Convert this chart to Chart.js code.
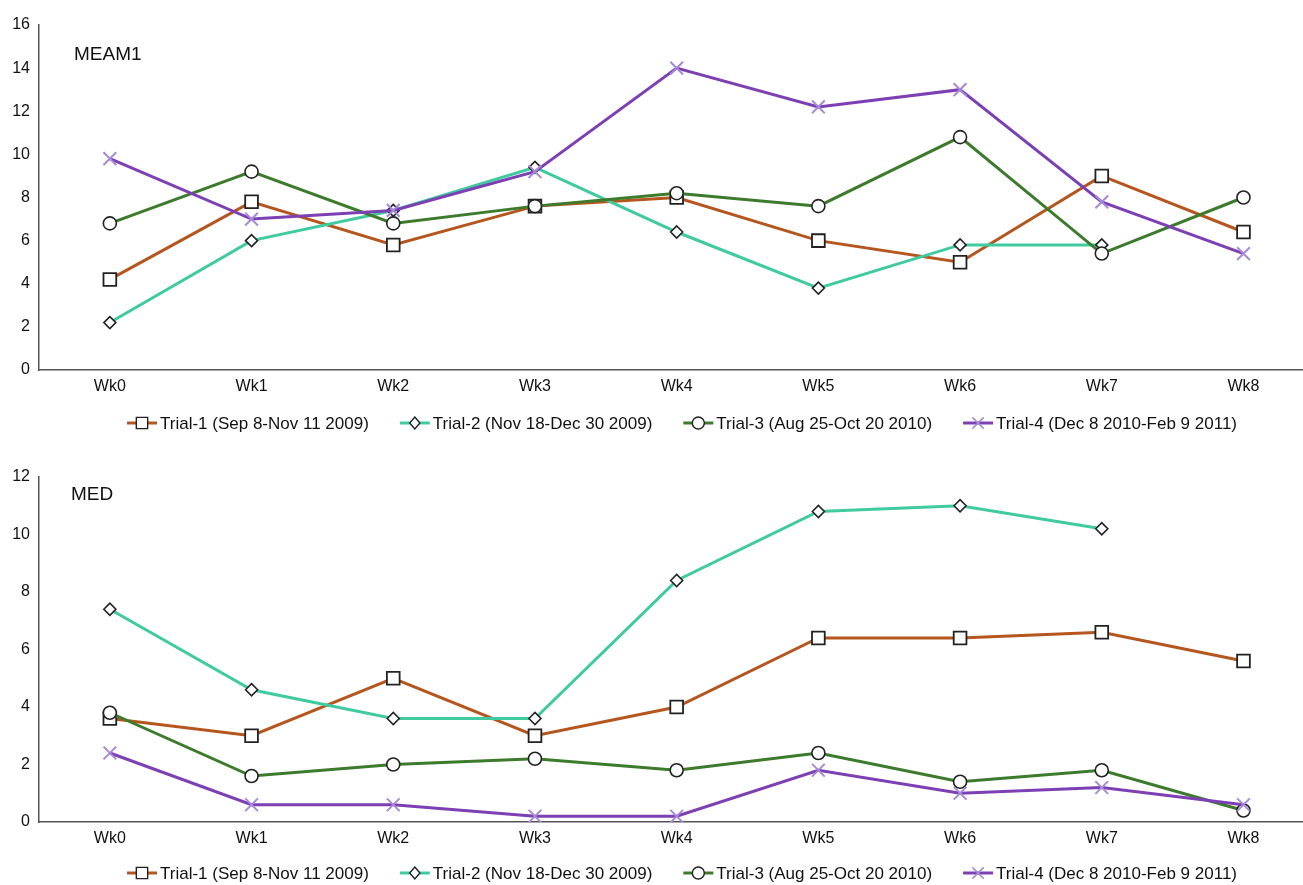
<!DOCTYPE html>
<html>
<head>
<meta charset="utf-8">
<title>MEAM1 / MED weekly counts</title>
<style>
  html, body { margin: 0; padding: 0; background: #fff; overflow: hidden; width: 1303px; height: 885px; }
  .panel { position: absolute; left: 0; width: 1303px; }
  #panelTop { top: 0; height: 445px; }
  #panelBottom { top: 445px; height: 440px; }
</style>
<script src="https://cdn.jsdelivr.net/npm/chart.js@4.4.1/dist/chart.umd.min.js"></script>
</head>
<body>
<div class="panel" id="panelTop"><canvas id="chartMeam1" width="1303" height="445"></canvas></div>
<div class="panel" id="panelBottom"><canvas id="chartMed" width="1303" height="440"></canvas></div>
<script>
// ---- data ----
const weeks = ['Wk0', 'Wk1', 'Wk2', 'Wk3', 'Wk4', 'Wk5', 'Wk6', 'Wk7', 'Wk8'];
const trialNames = [
  'Trial-1 (Sep 8-Nov 11 2009)',
  'Trial-2 (Nov 18-Dec 30 2009)',
  'Trial-3 (Aug 25-Oct 20 2010)',
  'Trial-4 (Dec 8 2010-Feb 9 2011)'
];
const meam1Ticks = [0, 2, 4, 6, 8, 10, 12, 14, 16];
const medTicks = [0, 2, 4, 6, 8, 10, 12];

const meam1Trial1 = [4.2, 7.8, 5.8, 7.6, 8.0, 6.0, 5.0, 9.0, 6.4];
const meam1Trial2 = [2.2, 6.0, 7.4, 9.4, 6.4, 3.8, 5.8, 5.8, null];
const meam1Trial3 = [6.8, 9.2, 6.8, 7.6, 8.2, 7.6, 10.8, 5.4, 8.0];
const meam1Trial4 = [9.8, 7.0, 7.4, 9.2, 14.0, 12.2, 13.0, 7.8, 5.4];

const medTrial1 = [3.6, 3.0, 5.0, 3.0, 4.0, 6.4, 6.4, 6.6, 5.6];
const medTrial2 = [7.4, 4.6, 3.6, 3.6, 8.4, 10.8, 11.0, 10.2, null];
const medTrial3 = [3.8, 1.6, 2.0, 2.2, 1.8, 2.4, 1.4, 1.8, 0.4];
const medTrial4 = [2.4, 0.6, 0.6, 0.2, 0.2, 1.8, 1.0, 1.2, 0.6];

// ---- styling per trial ----
const trialStyles = [
  { line: '#b5561f', marker: 'rect',     radius: 9,   mColor: '#222', mWidth: 1.8, lg: 8 },
  { line: '#3fcaa0', marker: 'rectRot',  radius: 6,   mColor: '#222', mWidth: 1.6, lg: 6 },
  { line: '#3c7a2c', marker: 'circle',   radius: 6.5, mColor: '#222', mWidth: 1.6, lg: 6 },
  { line: '#7d3fb4', marker: 'crossRot', radius: 9,   mColor: '#a58ad8', mWidth: 2, lg: 8 }
];

const FONT = 'Liberation Sans, Arial, Helvetica, sans-serif';

// the week axis runs half a step before Wk0 and continues past Wk8 to the right edge
const X_MIN = -0.5;
const X_MAX = 8.42;

// panel name written inside the plot area
const panelLabel = {
  id: 'panelLabel',
  afterDraw(chart, args, opts) {
    const { ctx, chartArea } = chart;
    ctx.save();
    ctx.font = opts.size + 'px ' + FONT;
    ctx.fillStyle = '#111';
    ctx.textAlign = 'left';
    ctx.textBaseline = 'middle';
    ctx.fillText(opts.text, chartArea.left + opts.dx, chartArea.top + opts.dy);
    ctx.restore();
  }
};

function drawMarker(ctx, kind, x, y, r) {
  ctx.beginPath();
  if (kind === 'rect') {
    const s = r * Math.SQRT1_2;
    ctx.rect(x - s, y - s, 2 * s, 2 * s);
    ctx.fill(); ctx.stroke();
  } else if (kind === 'rectRot') {
    ctx.moveTo(x, y - r); ctx.lineTo(x + r * 0.85, y); ctx.lineTo(x, y + r); ctx.lineTo(x - r * 0.85, y);
    ctx.closePath(); ctx.fill(); ctx.stroke();
  } else if (kind === 'circle') {
    ctx.arc(x, y, r, 0, Math.PI * 2);
    ctx.fill(); ctx.stroke();
  } else {
    const s = r * Math.SQRT1_2;
    ctx.moveTo(x - s, y - s); ctx.lineTo(x + s, y + s);
    ctx.moveTo(x + s, y - s); ctx.lineTo(x - s, y + s);
    ctx.stroke();
  }
}

// legend row: short line with the series marker in the middle, then the label
const lineLegend = {
  id: 'lineLegend',
  afterDraw(chart, args, opts) {
    const { ctx } = chart;
    const sym = 30, textGap = 3, itemGap = 31;
    ctx.save();
    ctx.font = opts.size + 'px ' + FONT;
    const items = chart.data.datasets.map((ds, i) => ({ ds, st: trialStyles[i], w: ctx.measureText(ds.label).width }));
    const total = items.reduce((a, it) => a + sym + textGap + it.w, 0) + itemGap * (items.length - 1);
    let x = opts.center - total / 2;
    const y = opts.y;
    items.forEach(it => {
      ctx.strokeStyle = it.st.line;
      ctx.lineWidth = 3;
      ctx.beginPath(); ctx.moveTo(x, y); ctx.lineTo(x + sym, y); ctx.stroke();
      ctx.fillStyle = '#fff';
      ctx.strokeStyle = it.st.mColor;
      ctx.lineWidth = it.st.marker === 'crossRot' ? 1.6 : 1.4;
      drawMarker(ctx, it.st.marker, x + sym / 2, y, it.st.lg);
      ctx.fillStyle = '#111';
      ctx.textAlign = 'left';
      ctx.textBaseline = 'middle';
      ctx.fillText(it.ds.label, x + sym + textGap, y + 1);
      x += sym + textGap + it.w + itemGap;
    });
    ctx.restore();
  }
};

function buildDatasets(series) {
  return series.map((values, i) => {
    const st = trialStyles[i];
    return {
      label: trialNames[i],
      data: values.map((v, k) => ({ x: k, y: v })),
      borderColor: st.line,
      borderWidth: 3,
      tension: 0,
      spanGaps: false,
      pointStyle: st.marker,
      pointRadius: st.radius,
      pointBackgroundColor: '#fff',
      pointBorderColor: st.mColor,
      pointBorderWidth: st.mWidth,
      order: series.length - i
    };
  });
}

function makeChart(canvasId, cfg) {
  return new Chart(document.getElementById(canvasId), {
    type: 'line',
    data: { datasets: buildDatasets(cfg.series) },
    options: {
      responsive: false,
      animation: false,
      events: [],
      layout: { autoPadding: false, padding: { top: cfg.top, left: 0, right: 0, bottom: 0 } },
      plugins: {
        legend: { display: false },
        tooltip: { enabled: false },
        panelLabel: { text: cfg.name, size: 19, dx: cfg.labelDx, dy: cfg.labelDy },
        lineLegend: { y: cfg.legendY, size: 17, center: 682 }
      },
      scales: {
        x: {
          type: 'linear',
          min: X_MIN,
          max: X_MAX,
          grid: { display: false, drawTicks: false },
          border: { display: true, color: '#555', width: 1.5 },
          afterBuildTicks(scale) { scale.ticks = weeks.map((w, k) => ({ value: k })); },
          ticks: {
            autoSkip: false,
            padding: 7,
            color: '#111',
            font: { family: FONT, size: 16 },
            maxRotation: 0,
            callback: (v) => weeks[v]
          },
          afterFit(scale) {
            scale.height = cfg.xHeight;
            scale.paddingLeft = 0;
            scale.paddingRight = 0;
          }
        },
        y: {
          min: cfg.ticks[0],
          max: cfg.ticks[cfg.ticks.length - 1],
          grid: { display: false, drawTicks: false },
          border: { display: true, color: '#555', width: 1.5 },
          afterBuildTicks(scale) { scale.ticks = cfg.ticks.map(v => ({ value: v })); },
          ticks: { padding: 9, color: '#111', font: { family: FONT, size: 16 } },
          afterFit(scale) { scale.width = 39; }
        }
      }
    },
    plugins: [panelLabel, lineLegend]
  });
}

makeChart('chartMeam1', {
  name: 'MEAM1',
  series: [meam1Trial1, meam1Trial2, meam1Trial3, meam1Trial4],
  ticks: meam1Ticks,
  top: 25, xHeight: 75, legendY: 423,
  labelDx: 35, labelDy: 30
});

makeChart('chartMed', {
  name: 'MED',
  series: [medTrial1, medTrial2, medTrial3, medTrial4],
  ticks: medTicks,
  top: 32, xHeight: 63, legendY: 428,
  labelDx: 32, labelDy: 18
});
</script>
</body>
</html>
